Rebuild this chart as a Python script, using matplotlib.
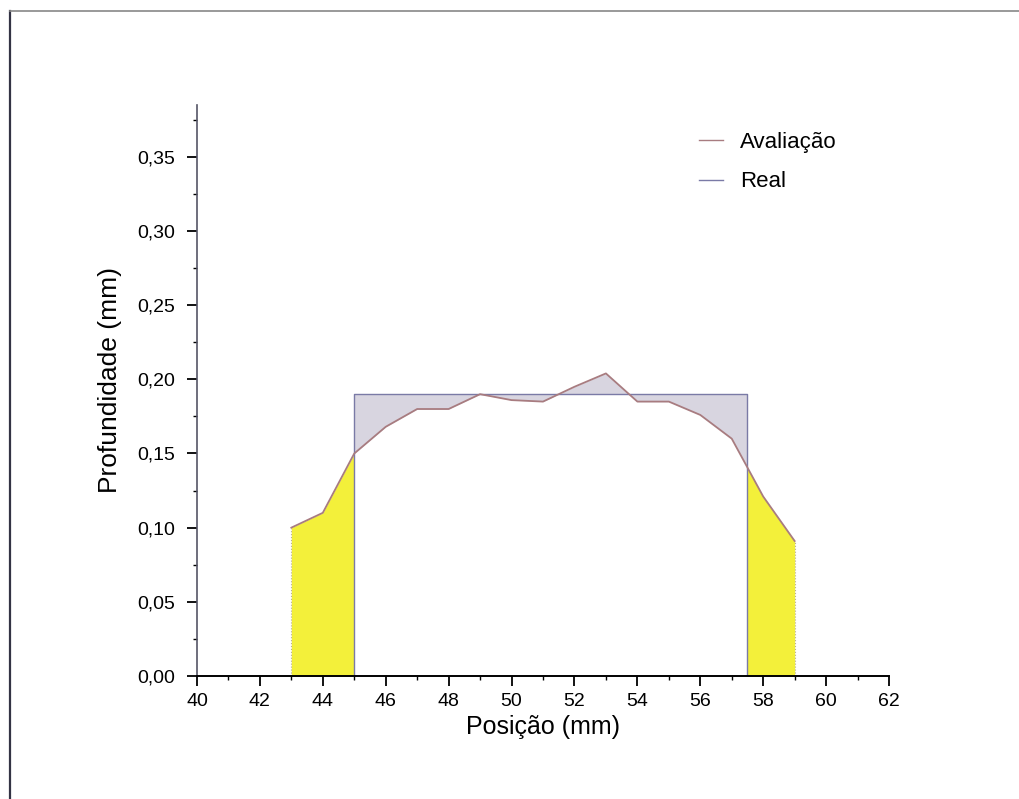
import numpy as np
import matplotlib
matplotlib.use("Agg")
import matplotlib.pyplot as plt
from matplotlib.ticker import MultipleLocator, FuncFormatter
from matplotlib.lines import Line2D

plt.rcParams['font.family'] = ['Liberation Sans', 'DejaVu Sans']

# Measured profile (Avaliação)
pos_aval = [43, 44, 45, 46, 47, 48, 49, 50, 51, 52, 53, 54, 55, 56, 57, 58, 59]
prof_aval = [0.100, 0.110, 0.150, 0.168, 0.180, 0.180, 0.190, 0.186, 0.185,
             0.195, 0.204, 0.185, 0.185, 0.176, 0.160, 0.121, 0.091]

# Real groove profile
pos_real = [45, 45, 57.5, 57.5]
prof_real = [0.0, 0.19, 0.19, 0.0]

xticks = [40, 42, 44, 46, 48, 50, 52, 54, 56, 58, 60, 62]
yticks = [0.00, 0.05, 0.10, 0.15, 0.20, 0.25, 0.30, 0.35]

col_aval = '#a87c80'
col_real = '#7a7aa6'
col_grey = '#d8d5e0'
col_yellow = '#f3f03a'

fig = plt.figure(figsize=(10.2, 7.99), dpi=100)
ax = fig.add_axes([0.1931, 0.154, 0.6785, 0.7146])

xa = np.array(pos_aval, dtype=float)
ya = np.array(prof_aval, dtype=float)
x0, x1 = pos_real[0], pos_real[2]
depth = prof_real[1]

# Grey area between real and measured profile inside the groove
xin = np.concatenate(([x0], xa[(xa > x0) & (xa < x1)], [x1]))
yin = np.interp(xin, xa, ya)
ax.fill_between(xin, yin, depth, color=col_grey, lw=0, interpolate=True)

# Yellow areas under the measured profile outside the groove
xl = np.concatenate((xa[xa < x0], [x0]))
ax.fill_between(xl, 0, np.interp(xl, xa, ya), color=col_yellow, lw=0)
xr = np.concatenate(([x1], xa[xa > x1]))
ax.fill_between(xr, 0, np.interp(xr, xa, ya), color=col_yellow, lw=0)
for xe in (xa[0], xa[-1]):
    ax.plot([xe, xe], [0, np.interp(xe, xa, ya)], color='#b8b090', lw=0.8, ls=':')

ax.plot(pos_real, prof_real, color=col_real, lw=1.0)
ax.plot(pos_aval, prof_aval, color=col_aval, lw=1.3)

ax.set_xlim(40, 62)
ax.set_ylim(0, 0.385)
ax.spines['top'].set_visible(False)
ax.spines['right'].set_visible(False)
ax.spines['bottom'].set_linewidth(1.4)
ax.spines['left'].set_linewidth(1.2)
ax.spines['left'].set_color('#555566')

ax.set_xticks(xticks)
ax.set_yticks(yticks)
ax.xaxis.set_minor_locator(MultipleLocator(1))
ax.yaxis.set_minor_locator(MultipleLocator(0.025))
ax.yaxis.set_major_formatter(FuncFormatter(lambda v, p: f"{v:.2f}".replace('.', ',')))
ax.tick_params(axis='both', which='major', direction='out', length=7, width=1.3)
ax.tick_params(axis='x', which='major', labelsize=14, pad=5)
ax.tick_params(axis='y', which='major', labelsize=14, pad=9)
ax.tick_params(axis='both', which='minor', direction='out', length=3, width=1.0)

ax.set_xlabel('Posição (mm)', fontsize=18, labelpad=4)
ax.set_ylabel('Profundidade (mm)', fontsize=19)
ax.yaxis.set_label_coords(-0.109, 0.518)

handles = [Line2D([], [], color=col_aval, lw=1.0), Line2D([], [], color=col_real, lw=1.0)]
ax.legend(handles, ['Avaliação', 'Real'], loc='upper left', bbox_to_anchor=(0.7125, 0.969),
          frameon=False, fontsize=16, handlelength=1.1, handletextpad=0.75,
          labelspacing=0.85, borderaxespad=0)

# Outer frame
fig.add_artist(Line2D([10 / 1020, 10 / 1020], [0, 1 - 11 / 799], color='#333344', lw=1.6,
                      transform=fig.transFigure))
fig.add_artist(Line2D([10 / 1020, 1], [1 - 11 / 799, 1 - 11 / 799], color='#888888', lw=1.2,
                      transform=fig.transFigure))

fig.savefig('out.png', dpi=100)
